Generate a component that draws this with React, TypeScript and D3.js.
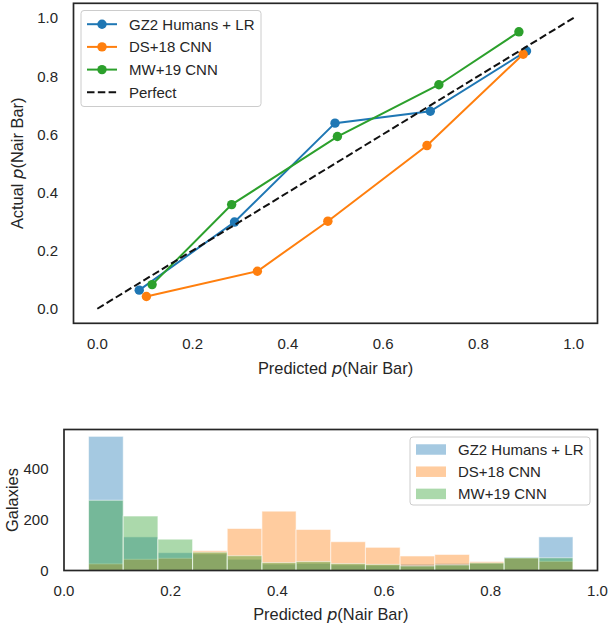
import React from "react";
import * as d3 from "d3";

// ---------- data ----------
const seriesNames = ["GZ2 Humans + LR", "DS+18 CNN", "MW+19 CNN"];
const seriesColors = ["#1f77b4", "#ff7f0e", "#2ca02c"];

// calibration curves (predicted, actual)
const gz2Pred = [0.088, 0.288, 0.499, 0.699, 0.901];
const gz2Actual = [0.064, 0.298, 0.638, 0.679, 0.886];
const ds18Pred = [0.103, 0.336, 0.484, 0.692, 0.894];
const ds18Actual = [0.042, 0.129, 0.301, 0.561, 0.875];
const mw19Pred = [0.115, 0.282, 0.504, 0.717, 0.885];
const mw19Actual = [0.083, 0.358, 0.592, 0.770, 0.952];

const perfectX = [0, 1];
const perfectY = [0, 1];

// histogram
const binEdges = [0.046, 0.111, 0.176, 0.241, 0.306, 0.371, 0.435, 0.5, 0.565, 0.63, 0.695, 0.76, 0.825, 0.89, 0.954];
const gz2Counts = [527, 132, 70, 65, 44, 25, 28, 22, 20, 25, 28, 28, 53, 132];
const ds18Counts = [26, 44, 48, 78, 165, 233, 161, 113, 91, 57, 63, 35, 49, 36];
const mw19Counts = [276, 214, 123, 72, 58, 31, 35, 27, 24, 18, 22, 30, 50, 50];

const topTicks = [0, 0.2, 0.4, 0.6, 0.8, 1.0];
const histXTicks = [0, 0.2, 0.4, 0.6, 0.8, 1.0];
const histYTicks = [0, 200, 400];

// ---------- layout ----------
const W = 610;
const H = 629;
const FONT = "'Liberation Sans', Arial, sans-serif";
const TXT = "#262626";
const TICK_FS = 15;
const LABEL_FS = 16.4;
const LEG_FS = 15;

const top = { l: 73.5, r: 597.5, t: 3.3, b: 323.3 };
const bot = { l: 64, r: 597.5, t: 429.5, b: 570.5 };

const fmt = d3.format(".1f");

function AxisLabel({ x, y, rotate, prefix }: { x: number; y: number; rotate?: boolean; prefix: string }) {
  return (
    <text
      x={x}
      y={y}
      transform={rotate ? `rotate(-90 ${x} ${y})` : undefined}
      textAnchor="middle"
      dominantBaseline="central"
      fontFamily={FONT}
      fontSize={LABEL_FS}
      fill={TXT}
    >
      {prefix}
      <tspan fontFamily="'DejaVu Sans', sans-serif" fontStyle="italic">p</tspan>
      (Nair Bar)
    </text>
  );
}

export default function App() {
  // top scales
  const x1 = d3.scaleLinear().domain([-0.05, 1.05]).range([top.l, top.r]);
  const y1 = d3.scaleLinear().domain([-0.05, 1.05]).range([top.b, top.t]);
  // bottom scales
  const x2 = d3.scaleLinear().domain([0, 1]).range([bot.l, bot.r]);
  const y2 = d3.scaleLinear().domain([0, 554]).range([bot.b, bot.t]);

  const curves = [
    { p: gz2Pred, a: gz2Actual },
    { p: ds18Pred, a: ds18Actual },
    { p: mw19Pred, a: mw19Actual },
  ];
  const line = d3
    .line<[number, number]>()
    .x((d) => x1(d[0]))
    .y((d) => y1(d[1]));

  const hists = [gz2Counts, ds18Counts, mw19Counts];

  // legend top
  const legTop = { x: 81, y: 10.5, w: 180, rowH: 22.7 };
  const legBot = { x: 410, y: 437, w: 180, rowH: 22.2 };

  return (
    <svg width={W} height={H} style={{ position: "absolute", left: 0, top: 0, background: "#fff" }}>
      <rect x={0} y={0} width={W} height={H} fill="#fff" />

      {/* ===== top panel ===== */}
      <g>
        {curves.map((c, i) => {
          const pts = c.p.map((v, j) => [v, c.a[j]] as [number, number]);
          return (
            <g key={i}>
              <path d={line(pts) || ""} fill="none" stroke={seriesColors[i]} strokeWidth={2} />
              {pts.map((d, j) => (
                <circle key={j} cx={x1(d[0])} cy={y1(d[1])} r={4.7} fill={seriesColors[i]} />
              ))}
            </g>
          );
        })}
        <path
          d={line(perfectX.map((v, j) => [v, perfectY[j]] as [number, number])) || ""}
          fill="none"
          stroke="#111"
          strokeWidth={2}
          strokeDasharray="7.5,3.3"
        />
        <rect x={top.l} y={top.t} width={top.r - top.l} height={top.b - top.t} fill="none" stroke={TXT} strokeWidth={1.7} />
        {topTicks.map((t) => (
          <text key={"x" + t} x={x1(t)} y={top.b + 20} textAnchor="middle" dominantBaseline="central" fontFamily={FONT} fontSize={TICK_FS} fill={TXT}>
            {fmt(t)}
          </text>
        ))}
        {topTicks.map((t) => (
          <text key={"y" + t} x={top.l - 15.5} y={y1(t)} textAnchor="end" dominantBaseline="central" fontFamily={FONT} fontSize={TICK_FS} fill={TXT}>
            {fmt(t)}
          </text>
        ))}
        <AxisLabel x={(top.l + top.r) / 2} y={368} prefix="Predicted " />
        <AxisLabel x={17} y={(top.t + top.b) / 2} rotate prefix="Actual " />

        {/* legend */}
        <rect x={legTop.x} y={legTop.y} width={legTop.w} height={96} rx={3} fill="#fff" fillOpacity={0.8} stroke="#ccc" strokeWidth={1} />
        {[...seriesNames, "Perfect"].map((name, i) => {
          const cy = legTop.y + 13.7 + i * legTop.rowH;
          const hx0 = legTop.x + 6;
          const hx1 = hx0 + 30;
          return (
            <g key={name}>
              {i < 3 ? (
                <>
                  <line x1={hx0} x2={hx1} y1={cy} y2={cy} stroke={seriesColors[i]} strokeWidth={2} />
                  <circle cx={(hx0 + hx1) / 2} cy={cy} r={4.7} fill={seriesColors[i]} />
                </>
              ) : (
                <line x1={hx0} x2={hx1} y1={cy} y2={cy} stroke="#111" strokeWidth={2} strokeDasharray="7.5,3.3" />
              )}
              <text x={hx1 + 12} y={cy} dominantBaseline="central" fontFamily={FONT} fontSize={LEG_FS} fill={TXT}>
                {name}
              </text>
            </g>
          );
        })}
      </g>

      {/* ===== bottom panel ===== */}
      <g>
        {hists.map((counts, i) => (
          <g key={i}>
            {counts.map((c, j) => (
              <rect
                key={j}
                x={x2(binEdges[j])}
                y={y2(c)}
                width={x2(binEdges[j + 1]) - x2(binEdges[j])}
                height={y2(0) - y2(c)}
                fill={seriesColors[i]}
                fillOpacity={0.4}
                stroke="#fff"
                strokeOpacity={0.55}
                strokeWidth={1}
              />
            ))}
          </g>
        ))}
        <rect x={bot.l} y={bot.t} width={bot.r - bot.l} height={bot.b - bot.t} fill="none" stroke={TXT} strokeWidth={1.7} />
        {histXTicks.map((t) => (
          <text key={"x" + t} x={x2(t)} y={bot.b + 20} textAnchor="middle" dominantBaseline="central" fontFamily={FONT} fontSize={TICK_FS} fill={TXT}>
            {fmt(t)}
          </text>
        ))}
        {histYTicks.map((t) => (
          <text key={"y" + t} x={bot.l - 15.5} y={y2(t)} textAnchor="end" dominantBaseline="central" fontFamily={FONT} fontSize={TICK_FS} fill={TXT}>
            {t}
          </text>
        ))}
        <AxisLabel x={(bot.l + bot.r) / 2} y={614} prefix="Predicted " />
        <text
          x={12}
          y={(bot.t + bot.b) / 2}
          transform={`rotate(-90 12 ${(bot.t + bot.b) / 2})`}
          textAnchor="middle"
          dominantBaseline="central"
          fontFamily={FONT}
          fontSize={LABEL_FS}
          fill={TXT}
        >
          Galaxies
        </text>

        {/* legend */}
        <rect x={legBot.x} y={legBot.y} width={legBot.w} height={68} rx={3} fill="#fff" fillOpacity={0.8} stroke="#ccc" strokeWidth={1} />
        {seriesNames.map((name, i) => {
          const cy = legBot.y + 12.5 + i * legBot.rowH;
          const hx0 = legBot.x + 6;
          return (
            <g key={name}>
              <rect x={hx0} y={cy - 5.25} width={30} height={10.5} fill={seriesColors[i]} fillOpacity={0.4} />
              <text x={hx0 + 42} y={cy} dominantBaseline="central" fontFamily={FONT} fontSize={LEG_FS} fill={TXT}>
                {name}
              </text>
            </g>
          );
        })}
      </g>
    </svg>
  );
}
